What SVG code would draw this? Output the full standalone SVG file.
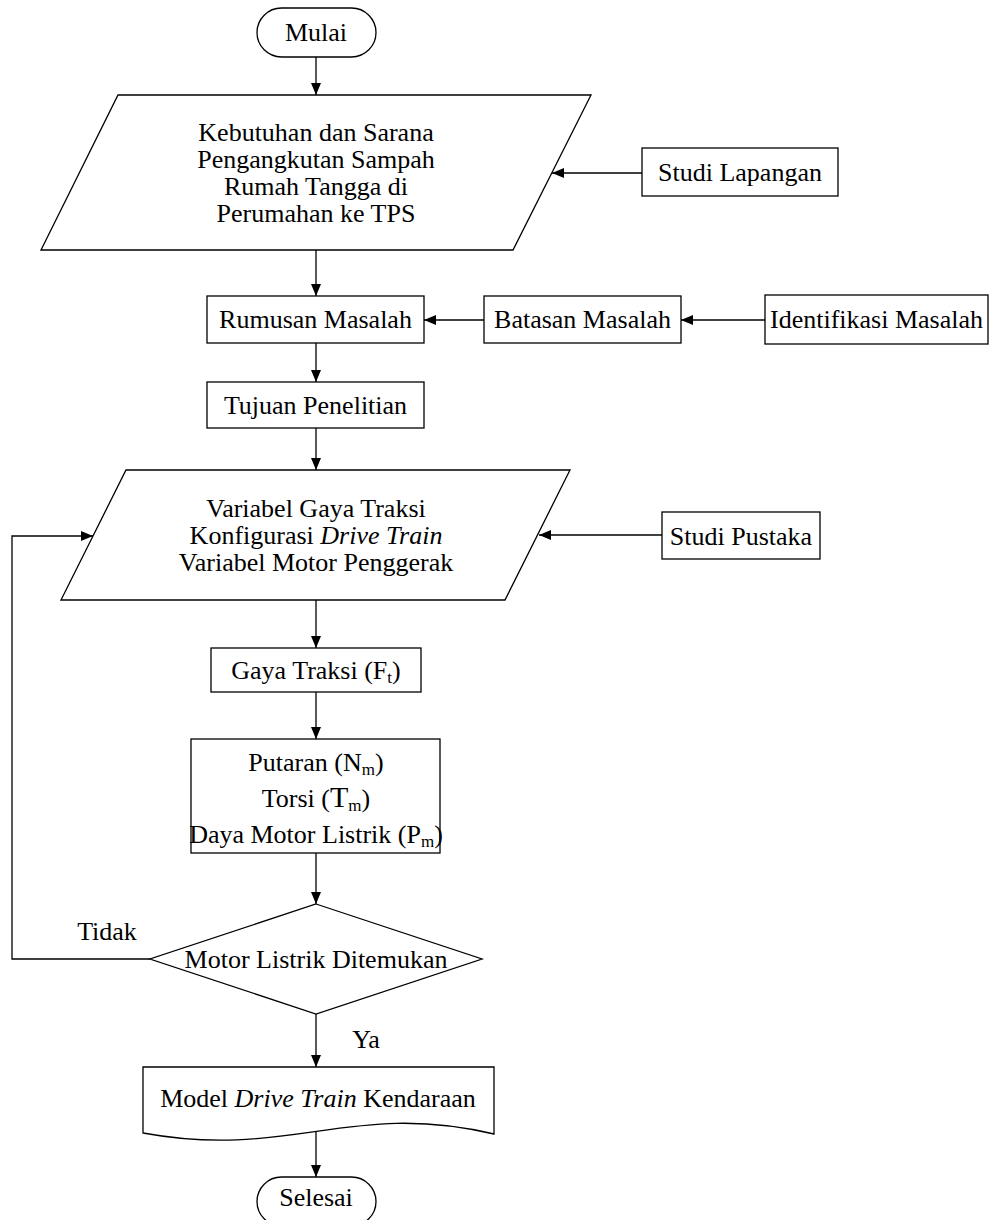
<svg xmlns="http://www.w3.org/2000/svg" width="990" height="1220" viewBox="0 0 990 1220">
<defs>
<marker id="ah" markerWidth="12" markerHeight="10" refX="12" refY="5" orient="auto" markerUnits="userSpaceOnUse">
<path d="M0,0 L12,5 L0,10 Z" fill="#000"/>
</marker>
<style>
.s{fill:#fff;stroke:#000;stroke-width:1.3}
.t{font-family:"Liberation Serif","Times New Roman",serif;font-size:26px;fill:#000;text-anchor:middle}
.c{fill:none;stroke:#000;stroke-width:1.3;marker-end:url(#ah)}
.i{font-style:italic}
.sb{font-size:17px}
</style>
</defs>
<rect width="990" height="1220" fill="#fff"/>
<g id="connectors">
<line class="c" x1="316" y1="57" x2="316" y2="95"/>
<line class="c" x1="642" y1="173" x2="552" y2="173"/>
<line class="c" x1="316" y1="250" x2="316" y2="296"/>
<line class="c" x1="765" y1="320" x2="681" y2="320"/>
<line class="c" x1="484" y1="320" x2="424" y2="320"/>
<line class="c" x1="316" y1="343" x2="316" y2="382"/>
<line class="c" x1="316" y1="428" x2="316" y2="470"/>
<line class="c" x1="662" y1="535" x2="539" y2="535"/>
<line class="c" x1="316" y1="600" x2="316" y2="648"/>
<line class="c" x1="316" y1="692" x2="316" y2="739"/>
<line class="c" x1="316" y1="853" x2="316" y2="904"/>
<polyline class="c" points="150,959 12,959 12,536 93,536"/>
<line class="c" x1="316" y1="1014" x2="316" y2="1067"/>
<line class="c" x1="316" y1="1131" x2="316" y2="1177"/>
<text class="t" x="107" y="940">Tidak</text>
<text class="t" x="366" y="1048">Ya</text>
</g>
<g id="mulai">
<rect class="s" x="257" y="8" width="119" height="49" rx="24.5"/>
<text class="t" x="316" y="41">Mulai</text>
</g>
<g id="kebutuhan">
<polygon class="s" points="118,95 591,95 513,250 41,250"/>
<text class="t" x="316" y="141">Kebutuhan dan Sarana</text>
<text class="t" x="316" y="168">Pengangkutan Sampah</text>
<text class="t" x="316" y="195">Rumah Tangga di</text>
<text class="t" x="316" y="222">Perumahan ke TPS</text>
</g>
<g id="studi-lapangan">
<rect class="s" x="642" y="148" width="196" height="48"/>
<text class="t" x="740" y="181">Studi Lapangan</text>
</g>
<g id="rumusan">
<rect class="s" x="207" y="296" width="217" height="47"/>
<text class="t" x="315.5" y="328">Rumusan Masalah</text>
</g>
<g id="batasan">
<rect class="s" x="484" y="296" width="197" height="47"/>
<text class="t" x="582.5" y="328">Batasan Masalah</text>
</g>
<g id="identifikasi">
<rect class="s" x="765" y="295" width="223" height="49"/>
<text class="t" x="876.5" y="328">Identifikasi Masalah</text>
</g>
<g id="tujuan">
<rect class="s" x="207" y="382" width="217" height="46"/>
<text class="t" x="315.5" y="414">Tujuan Penelitian</text>
</g>
<g id="variabel">
<polygon class="s" points="126,470 570,470 505,600 61,600"/>
<text class="t" x="316" y="517">Variabel Gaya Traksi</text>
<text class="t" x="316" y="544">Konfigurasi <tspan class="i">Drive Train</tspan></text>
<text class="t" x="316" y="571">Variabel Motor Penggerak</text>
</g>
<g id="studi-pustaka">
<rect class="s" x="662" y="512" width="158" height="47"/>
<text class="t" x="741" y="545">Studi Pustaka</text>
</g>
<g id="gaya-traksi">
<rect class="s" x="211" y="648" width="210" height="44"/>
<text class="t" x="316" y="679">Gaya Traksi (F<tspan class="sb" dy="4">t</tspan><tspan dy="-4">)</tspan></text>
</g>
<g id="putaran">
<rect class="s" x="191" y="739" width="249" height="114"/>
<text class="t" x="316" y="771">Putaran (N<tspan class="sb" dy="4">m</tspan><tspan dy="-4">)</tspan></text>
<text class="t" x="316" y="807">Torsi (<tspan font-size="30">T</tspan><tspan class="sb" dy="4">m</tspan><tspan dy="-4">)</tspan></text>
<text class="t" x="316" y="843">Daya Motor Listrik (P<tspan class="sb" dy="4">m</tspan><tspan dy="-4">)</tspan></text>
</g>
<g id="keputusan">
<polygon class="s" points="316,904 482,959 316,1014 150,959"/>
<text class="t" x="316" y="968">Motor Listrik Ditemukan</text>
</g>
<g id="model">
<path class="s" d="M143,1067 H494 V1134 C350,1100 290,1160 143,1133 Z"/>
<text class="t" x="318" y="1107">Model <tspan class="i">Drive Train</tspan> Kendaraan</text>
</g>
<g id="selesai">
<rect class="s" x="257" y="1177" width="119" height="49" rx="24.5"/>
<text class="t" x="316" y="1206">Selesai</text>
</g>
</svg>
